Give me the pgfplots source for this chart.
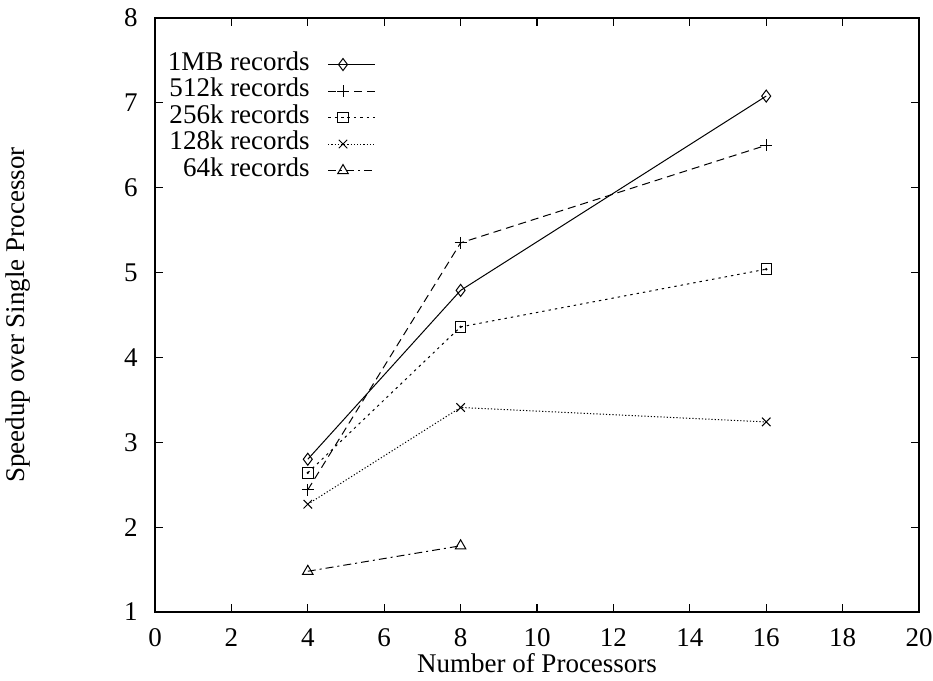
\documentclass[border=0pt]{standalone}
\usepackage{pgfplots}
\pgfplotsset{compat=1.18}
\usepackage{fontspec}
\setmainfont{Liberation Serif}
\begin{document}
\fontsize{13.5pt}{16pt}\selectfont
\begin{tikzpicture}
\begin{axis}[
  scale only axis,
  width=382pt, height=297pt,
  xmin=0, xmax=20, ymin=1, ymax=8,
  xtick={0,2,...,20}, ytick={1,2,...,8},
  tick align=inside,
  major tick length=4pt,
  every tick/.style={black, line width=0.6pt},
  axis line style={line width=0.9pt},
  /pgf/number format/assume math mode=true,
  tick label style={font=\fontsize{13.5pt}{16pt}\selectfont},
  yticklabel style={inner sep=0pt, xshift=-8.5pt},
  xticklabel style={inner sep=0pt, yshift=-8pt},
  xlabel={Number of Processors},
  ylabel={Speedup over Single Processor},
  every axis x label/.style={at={(axis description cs:0.5,-0.0859)}, anchor=center},
  every axis y label/.style={at={(axis description cs:-0.1793,0.5)}, anchor=center, rotate=90},
  label style={font=\fontsize{13.5pt}{16pt}\selectfont},
  legend cell align=right,
  legend plot pos=right,
  legend style={draw=none, fill=none, at={(rel axis cs:0.0170,0.9440)}, anchor=north west,
    inner sep=0pt, outer sep=0pt, row sep=0pt, column sep=9pt,
    font=\fontsize{13.5pt}{16pt}\selectfont,
    nodes={inner sep=0pt, text height=9.6pt, text depth=3.65pt}},
  legend image code/.code={
    \draw[mark repeat=2, mark phase=2, #1] plot coordinates {(0cm,0cm) (0.26cm,0cm) (0.83cm,0cm)};
  },
]
\addplot[black, line width=0.5pt, mark=diamond, mark size=3pt, mark options={solid, line width=0.5pt}]
  coordinates {(4,2.80) (8,4.79) (16,7.08)};
\addlegendentry{1MB records}
\addplot[black, line width=0.5pt, dash pattern=on 4pt off 2.5pt, mark=+, mark size=3pt, mark options={solid, line width=0.5pt}]
  coordinates {(4,2.44) (8,5.35) (16,6.50)};
\addlegendentry{512k records}
\addplot[black, line width=0.5pt, dash pattern=on 1.2pt off 2pt, mark=square, mark size=2.6pt, mark options={solid, line width=0.5pt}]
  coordinates {(4,2.64) (8,4.36) (16,5.04)};
\addlegendentry{256k records}
\addplot[black, line width=0.5pt, dash pattern=on 0.6pt off 1pt, mark=x, mark size=3pt, mark options={solid, line width=0.5pt}]
  coordinates {(4,2.27) (8,3.41) (16,3.24)};
\addlegendentry{128k records}
\addplot[black, line width=0.5pt, dash pattern=on 4pt off 2pt on 1pt off 2pt, mark=triangle, mark size=3pt, mark options={solid, line width=0.5pt}]
  coordinates {(4,1.48) (8,1.78)};
\addlegendentry{64k records}
\addplot[black, only marks, mark=*, mark size=0.4pt, forget plot]
  coordinates {(4,2.64) (8,4.36) (16,5.04)};
\coordinate (sw) at (rel axis cs:0,0);
\coordinate (ne) at (rel axis cs:1,1);
\end{axis}
\pgfresetboundingbox
\path[use as bounding box] ([xshift=-77.5pt,yshift=-34.5pt]sw) rectangle ([xshift=7pt,yshift=9pt]ne);
\end{tikzpicture}
\end{document}
